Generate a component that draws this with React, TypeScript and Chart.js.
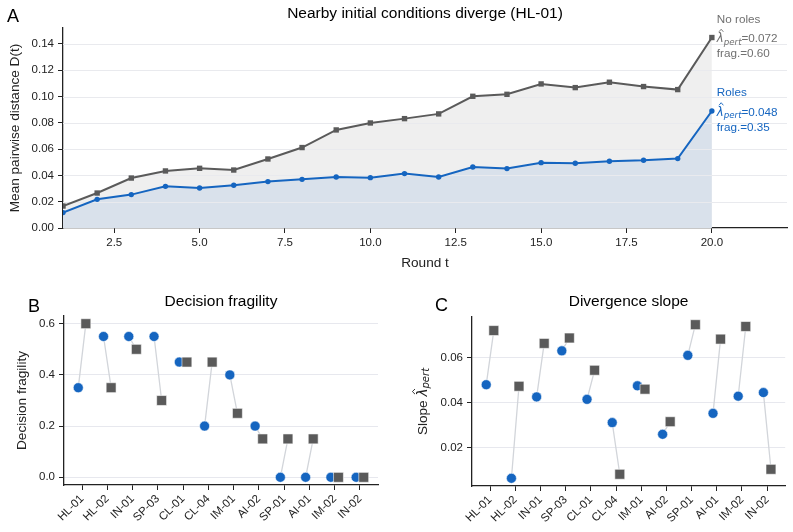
import React, { useEffect, useRef } from 'react';
import { Chart, registerables } from 'chart.js';

Chart.register(...registerables);

// ---------- data ----------
const rounds = [1, 2, 3, 4, 5, 6, 7, 8, 9, 10, 11, 12, 13, 14, 15, 16, 17, 18, 19, 20];
const distanceRoles = [0.0117, 0.0218, 0.0254, 0.0317, 0.0304, 0.0325, 0.0353, 0.037, 0.0388, 0.0383, 0.0414, 0.0388, 0.0464, 0.0452, 0.0497, 0.0492, 0.0508, 0.0515, 0.0528, 0.089];
const distanceNoRoles = [0.0167, 0.0266, 0.038, 0.0434, 0.0454, 0.0441, 0.0525, 0.0612, 0.0746, 0.0799, 0.0832, 0.0868, 0.1002, 0.1017, 0.1096, 0.1068, 0.1109, 0.1076, 0.1053, 0.1449];
const roundTicks = [2.5, 5, 7.5, 10, 12.5, 15, 17.5, 20];
const distanceTicks = [0, 0.02, 0.04, 0.06, 0.08, 0.1, 0.12, 0.14];

const scenarios = ['HL-01', 'HL-02', 'IN-01', 'SP-03', 'CL-01', 'CL-04', 'IM-01', 'AI-02', 'SP-01', 'AI-01', 'IM-02', 'IN-02'];
const fragilityRoles = [0.35, 0.55, 0.55, 0.55, 0.45, 0.2, 0.4, 0.2, 0.0, 0.0, 0.0, 0.0];
const fragilityNoRoles = [0.6, 0.35, 0.5, 0.3, 0.45, 0.45, 0.25, 0.15, 0.15, 0.15, 0.0, 0.0];
const fragilityTicks = [0, 0.2, 0.4, 0.6];
const slopeRoles = [0.048, 0.0065, 0.0426, 0.063, 0.0415, 0.0312, 0.0475, 0.026, 0.061, 0.0353, 0.0429, 0.0445];
const slopeNoRoles = [0.072, 0.0473, 0.0663, 0.0687, 0.0544, 0.0083, 0.046, 0.0316, 0.0746, 0.0682, 0.0738, 0.0105];
const slopeTicks = [0.02, 0.04, 0.06];

// ---------- style ----------
const FONT = '"Liberation Sans", Arial, Helvetica, sans-serif';
const MATH = '"DejaVu Sans", sans-serif';
const INK = '#222222';
const BLUE = '#1565c0';
const GRAY = '#5a5a5a';
const GRAY_TEXT = '#707070';
const BLUE_FILL = '#d9e1eb';
const GRAY_FILL = '#efefef';
const GRID = '#e7e8ee';
const CONNECT = '#d2d5da';
const TICK_FONT = { family: FONT, size: 11.5 };
const AXIS_FONT = { family: FONT, size: 13.6 };
const OFFSET = 0.15;

Chart.defaults.font.family = FONT;

const fixTicks = (vals: number[]) => (scale: any) => {
  scale.ticks = vals.map((value) => ({ value }));
};

const padRange = (vals: number[]) => {
  const lo = Math.min(...vals);
  const hi = Math.max(...vals);
  const m = (hi - lo) * 0.05;
  return [lo - m, hi + m];
};

type Run = { text: string; font: string; dy?: number; hat?: boolean };

function runsWidth(ctx: CanvasRenderingContext2D, runs: Run[]) {
  let w = 0;
  for (const r of runs) {
    ctx.font = r.font;
    w += ctx.measureText(r.text).width;
  }
  return w;
}

function drawRuns(ctx: CanvasRenderingContext2D, runs: Run[], x: number, y: number, hatLift: number) {
  let cx = x;
  for (const r of runs) {
    ctx.font = r.font;
    const w = ctx.measureText(r.text).width;
    ctx.fillText(r.text, cx, y + (r.dy || 0));
    if (r.hat) {
      const top = y - hatLift;
      ctx.save();
      ctx.lineWidth = 0.9;
      ctx.strokeStyle = ctx.fillStyle as string;
      ctx.beginPath();
      ctx.moveTo(cx + w * 0.3, top);
      ctx.lineTo(cx + w * 0.62, top - 2.6);
      ctx.lineTo(cx + w * 0.94, top);
      ctx.stroke();
      ctx.restore();
    }
    cx += w;
  }
}

const lambdaRuns = (size: number, tail: string): Run[] => [
  { text: 'λ', font: `italic ${size}px ${MATH}`, hat: true },
  { text: 'pert', font: `italic ${size * 0.74}px ${MATH}`, dy: size * 0.22 },
  { text: tail, font: `${size}px ${FONT}` },
];

function drawHeader(ctx: CanvasRenderingContext2D, letter: string, lx: number, ly: number, title: string, tx: number, ty: number) {
  ctx.save();
  ctx.fillStyle = '#000';
  ctx.textBaseline = 'alphabetic';
  ctx.textAlign = 'left';
  ctx.font = `18px ${FONT}`;
  ctx.fillText(letter, lx, ly);
  ctx.textAlign = 'center';
  ctx.font = `15.5px ${FONT}`;
  ctx.fillText(title, tx, ty);
  ctx.restore();
}

function yScale(min: number, max: number, ticks: number[], digits: number, width: number, title: string | null, titlePad: number, grid: boolean) {
  return {
    type: 'linear',
    min,
    max,
    afterBuildTicks: fixTicks(ticks),
    afterFit: (s: any) => {
      s.width = width;
    },
    ticks: { callback: (v: any) => Number(v).toFixed(digits), font: TICK_FONT, color: INK, padding: 4 },
    grid: { display: true, drawOnChartArea: grid, color: GRID, lineWidth: 1, drawTicks: true, tickLength: 5, tickColor: INK, tickWidth: 1 },
    border: { display: true, color: INK, width: 1.3 },
    title: { display: !!title, text: title || '', font: AXIS_FONT, color: INK, padding: { top: titlePad, bottom: 0 } },
  };
}

// ---------- panel A ----------
function configA(): any {
  const gridOverFill = {
    id: 'gridOverFill',
    beforeDatasetsDraw(chart: any) {
      const { ctx, chartArea: a, scales } = chart;
      ctx.save();
      ctx.strokeStyle = '#e9eaee';
      ctx.lineWidth = 1;
      for (const v of distanceTicks) {
        if (v === 0) continue;
        const py = Math.round(scales.y.getPixelForValue(v)) + 0.5;
        ctx.beginPath();
        ctx.moveTo(a.left, py);
        ctx.lineTo(a.right, py);
        ctx.stroke();
      }
      ctx.restore();
    },
  };

  const decor = {
    id: 'decorA',
    afterDraw(chart: any) {
      const { ctx, chartArea: a, scales } = chart;
      drawHeader(ctx, 'A', 7, 22, `Nearby initial conditions diverge (${scenarios[0]})`, (a.left + a.right) / 2, 18);
      const last = rounds.length - 1;
      const x0 = scales.x.getPixelForValue(rounds[last]) + 5;
      const groups = [
        { label: 'No roles', color: GRAY_TEXT, y: distanceNoRoles[last], slope: slopeNoRoles[0], frag: fragilityNoRoles[0] },
        { label: 'Roles', color: BLUE, y: distanceRoles[last], slope: slopeRoles[0], frag: fragilityRoles[0] },
      ];
      ctx.save();
      ctx.textAlign = 'left';
      ctx.textBaseline = 'alphabetic';
      for (const g of groups) {
        const py = scales.y.getPixelForValue(g.y);
        ctx.fillStyle = g.color;
        ctx.font = `11.7px ${FONT}`;
        ctx.fillText(g.label, x0, py - 14.6);
        drawRuns(ctx, lambdaRuns(11.7, `=${g.slope.toFixed(3)}`), x0, py + 4.5, 10.2);
        ctx.font = `11.7px ${FONT}`;
        ctx.fillText(`frag.=${g.frag.toFixed(2)}`, x0, py + 19.5);
      }
      ctx.restore();
    },
  };

  return {
    type: 'line',
    data: {
      datasets: [
        {
          label: 'Roles',
          data: rounds.map((t, i) => ({ x: t, y: distanceRoles[i] })),
          borderColor: BLUE,
          backgroundColor: BLUE_FILL,
          fill: 'origin',
          borderWidth: 2,
          tension: 0,
          pointStyle: 'circle',
          pointRadius: 2.7,
          pointBackgroundColor: BLUE,
          pointBorderWidth: 0,
        },
        {
          label: 'No roles',
          data: rounds.map((t, i) => ({ x: t, y: distanceNoRoles[i] })),
          borderColor: GRAY,
          backgroundColor: GRAY_FILL,
          fill: 'origin',
          borderWidth: 2,
          tension: 0,
          pointStyle: 'rect',
          pointRadius: 3.8,
          pointBackgroundColor: GRAY,
          pointBorderWidth: 0,
        },
      ],
    },
    options: {
      responsive: false,
      animation: false,
      devicePixelRatio: 1,
      layout: { padding: { left: 0, right: 6, top: 28, bottom: 0 } },
      plugins: { legend: { display: false }, tooltip: { enabled: false }, filler: { drawTime: 'beforeDatasetsDraw' } },
      scales: {
        x: {
          type: 'linear',
          min: rounds[0],
          max: 22.2,
          afterBuildTicks: fixTicks(roundTicks),
          afterFit: (s: any) => {
            s.height = 57;
          },
          ticks: { callback: (v: any) => Number(v).toFixed(1), font: TICK_FONT, color: INK, padding: 3, maxRotation: 0, autoSkip: false },
          grid: { display: true, drawOnChartArea: false, drawTicks: true, tickLength: 5, tickColor: INK, tickWidth: 1 },
          border: { display: true, color: INK, width: 1.3 },
          title: { display: true, text: 'Round t', font: AXIS_FONT, color: INK, padding: { top: 0, bottom: 14 } },
        },
        y: yScale(0, Math.max(...distanceNoRoles) * 1.05, distanceTicks, 2, 63, 'Mean pairwise distance D(t)', 7, false),
      },
    },
    plugins: [gridOverFill, decor],
  };
}

// ---------- panels B and C ----------
function dumbbellConfig(opts: {
  roles: number[];
  noRoles: number[];
  ticks: number[];
  digits: number;
  yWidth: number;
  xHeight: number;
  padTop: number;
  padRight: number;
  yTitle: string | null;
  yTitlePad: number;
  decor: any;
}): any {
  const [ymin, ymax] = padRange([...opts.roles, ...opts.noRoles]);
  const [xmin, xmax] = padRange([-OFFSET, scenarios.length - 1 + OFFSET]);
  const connectors: any[] = [];
  scenarios.forEach((_, i) => {
    connectors.push({ x: i - OFFSET, y: opts.roles[i] });
    connectors.push({ x: i + OFFSET, y: opts.noRoles[i] });
    connectors.push({ x: i + 0.5, y: null });
  });
  return {
    type: 'scatter',
    data: {
      datasets: [
        {
          label: 'No roles',
          data: scenarios.map((_, i) => ({ x: i + OFFSET, y: opts.noRoles[i] })),
          pointStyle: 'rect',
          pointRadius: 7,
          backgroundColor: GRAY,
          borderColor: 'rgba(255,255,255,0.7)',
          borderWidth: 0.8,
        },
        {
          label: 'Roles',
          data: scenarios.map((_, i) => ({ x: i - OFFSET, y: opts.roles[i] })),
          pointStyle: 'circle',
          pointRadius: 5,
          backgroundColor: BLUE,
          borderColor: 'rgba(255,255,255,0.7)',
          borderWidth: 0.8,
        },
        {
          label: 'pairs',
          data: connectors,
          showLine: true,
          spanGaps: false,
          borderColor: CONNECT,
          borderWidth: 1.3,
          pointRadius: 0,
        },
      ],
    },
    options: {
      responsive: false,
      animation: false,
      devicePixelRatio: 1,
      clip: false,
      layout: { padding: { left: 0, right: opts.padRight, top: opts.padTop, bottom: 0 } },
      plugins: { legend: { display: false }, tooltip: { enabled: false } },
      scales: {
        x: {
          type: 'linear',
          min: xmin,
          max: xmax,
          afterBuildTicks: fixTicks(scenarios.map((_, i) => i)),
          afterFit: (s: any) => {
            s.height = opts.xHeight;
          },
          ticks: {
            callback: (v: any) => scenarios[Math.round(Number(v))],
            font: TICK_FONT,
            color: INK,
            padding: 2,
            minRotation: 45,
            maxRotation: 45,
            autoSkip: false,
          },
          grid: { display: true, drawOnChartArea: false, drawTicks: true, tickLength: 5, tickColor: INK, tickWidth: 1 },
          border: { display: true, color: INK, width: 1.3 },
        },
        y: yScale(ymin, ymax, opts.ticks, opts.digits, opts.yWidth, opts.yTitle, opts.yTitlePad, true),
      },
    },
    plugins: [opts.decor],
  };
}

function configB(): any {
  const decor = {
    id: 'decorB',
    afterDraw(chart: any) {
      const { ctx, chartArea: a } = chart;
      drawHeader(ctx, 'B', 28, 26.5, 'Decision fragility', (a.left + a.right) / 2, 21);
    },
  };
  return dumbbellConfig({
    roles: fragilityRoles,
    noRoles: fragilityNoRoles,
    ticks: fragilityTicks,
    digits: 1,
    yWidth: 64,
    xHeight: 47,
    padTop: 31,
    padRight: 18,
    yTitle: 'Decision fragility',
    yTitlePad: 14,
    decor,
  });
}

function configC(): any {
  const decor = {
    id: 'decorC',
    afterDraw(chart: any) {
      const { ctx, chartArea: a } = chart;
      drawHeader(ctx, 'C', 39, 26, 'Divergence slope', (a.left + a.right) / 2, 21);
      // rotated y-axis title with the estimator symbol
      const runs: Run[] = [{ text: 'Slope ', font: `13.6px ${FONT}` }, ...lambdaRuns(13.6, '')];
      ctx.save();
      ctx.fillStyle = INK;
      ctx.textAlign = 'left';
      ctx.textBaseline = 'alphabetic';
      const w = runsWidth(ctx, runs);
      ctx.translate(30.5, (a.top + a.bottom) / 2);
      ctx.rotate(-Math.PI / 2);
      drawRuns(ctx, runs, -w / 2, 0, 11.5);
      ctx.restore();
    },
  };
  return dumbbellConfig({
    roles: slopeRoles,
    noRoles: slopeNoRoles,
    ticks: slopeTicks,
    digits: 2,
    yWidth: 76,
    xHeight: 46,
    padTop: 32,
    padRight: 6,
    yTitle: null,
    yTitlePad: 0,
    decor,
  });
}

function ChartCanvas(props: { left: number; top: number; width: number; height: number; make: () => any }) {
  const ref = useRef<HTMLCanvasElement>(null);
  useEffect(() => {
    const chart = new Chart(ref.current as HTMLCanvasElement, props.make());
    return () => chart.destroy();
  }, []);
  const { left, top, width, height } = props;
  return (
    <canvas
      ref={ref}
      width={width}
      height={height}
      style={{ position: 'absolute', left, top, width, height, display: 'block' }}
    />
  );
}

export default function App() {
  return (
    <div style={{ position: 'fixed', left: 0, top: 0, width: 793, height: 532, background: '#fff', overflow: 'hidden' }}>
      <ChartCanvas left={0} top={0} width={793} height={285} make={configA} />
      <ChartCanvas left={0} top={285} width={396} height={247} make={configB} />
      <ChartCanvas left={396} top={285} width={397} height={247} make={configC} />
    </div>
  );
}
